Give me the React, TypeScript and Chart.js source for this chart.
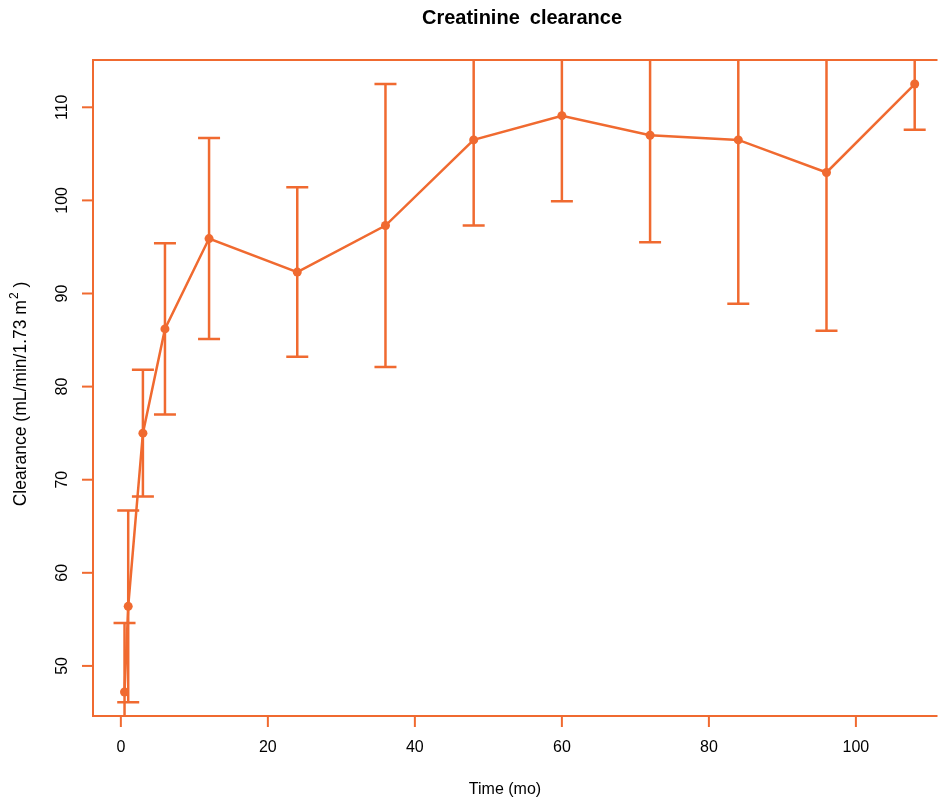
import React, { useEffect, useRef } from "react";
import { Chart, registerables } from "chart.js";

Chart.register(...registerables);

const times = [0.5, 1, 3, 6, 12, 24, 36, 48, 60, 72, 84, 96, 108];
const means = [47.2, 56.4, 75.0, 86.2, 95.9, 92.3, 97.3, 106.5, 109.1, 107.0, 106.5, 103.0, 112.5];
const errors = [7.4, 10.3, 6.8, 9.2, 10.8, 9.1, 15.2, 9.2, 9.2, 11.5, 17.6, 17.0, 4.9];
const xTicks = [0, 20, 40, 60, 80, 100];
const yTicks = [50, 60, 70, 80, 90, 100, 110];

const TITLE = "Creatinine clearance";
const X_TITLE = "Time (mo)";
const Y_TITLE_MAIN = "Clearance (mL/min/1.73 m";
const Y_TITLE_SUP = "2";
const Y_TITLE_END = " )";

const ORANGE = "#F06A30";
const FONT = "'Liberation Sans', Arial, sans-serif";

const decorPlugin = {
  id: "decor",
  beforeDatasetsDraw(chart: any) {
    const { ctx, chartArea, scales } = chart;
    const xs = scales.x;
    const ys = scales.y;
    ctx.save();
    ctx.beginPath();
    ctx.rect(chartArea.left, chartArea.top, chartArea.right - chartArea.left, chartArea.bottom - chartArea.top);
    ctx.clip();
    ctx.strokeStyle = ORANGE;
    ctx.lineWidth = 2.5;
    const cap = 11;
    times.forEach((t, i) => {
      const px = xs.getPixelForValue(t);
      const hi = ys.getPixelForValue(means[i] + errors[i]);
      const lo = ys.getPixelForValue(means[i] - errors[i]);
      ctx.beginPath();
      ctx.moveTo(px, hi);
      ctx.lineTo(px, lo);
      ctx.moveTo(px - cap, hi);
      ctx.lineTo(px + cap, hi);
      ctx.moveTo(px - cap, lo);
      ctx.lineTo(px + cap, lo);
      ctx.stroke();
    });
    ctx.restore();
  },
  afterDraw(chart: any) {
    const { ctx, chartArea, scales } = chart;
    const xs = scales.x;
    const ys = scales.y;
    const { left, top, right, bottom } = chartArea;
    ctx.save();
    // frame
    ctx.strokeStyle = ORANGE;
    ctx.lineWidth = 2;
    ctx.beginPath();
    ctx.moveTo(right + 2, top);
    ctx.lineTo(left, top);
    ctx.lineTo(left, bottom);
    ctx.lineTo(right + 2, bottom);
    ctx.stroke();
    // x ticks
    ctx.fillStyle = "#000";
    ctx.font = `16px ${FONT}`;
    ctx.textAlign = "center";
    ctx.textBaseline = "middle";
    xTicks.forEach((v) => {
      const px = xs.getPixelForValue(v);
      ctx.beginPath();
      ctx.moveTo(px, bottom);
      ctx.lineTo(px, bottom + 11);
      ctx.stroke();
      ctx.fillText(String(v), px, 748);
    });
    // y ticks
    yTicks.forEach((v) => {
      const py = ys.getPixelForValue(v);
      ctx.beginPath();
      ctx.moveTo(left, py);
      ctx.lineTo(left - 11, py);
      ctx.stroke();
      ctx.save();
      ctx.translate(63, py);
      ctx.rotate(-Math.PI / 2);
      ctx.fillText(String(v), 0, 0);
      ctx.restore();
    });
    // title
    ctx.font = `bold 20px ${FONT}`;
    const words = TITLE.split(" ");
    const gap = 10;
    const w0 = ctx.measureText(words[0]).width;
    const w1 = ctx.measureText(words[1]).width;
    const tw = w0 + gap + w1;
    ctx.textAlign = "left";
    ctx.fillText(words[0], 522 - tw / 2, 18);
    ctx.fillText(words[1], 522 - tw / 2 + w0 + gap, 18);
    ctx.textAlign = "center";
    // x title
    ctx.font = `16px ${FONT}`;
    ctx.fillText(X_TITLE, 505, 790);
    // y title
    ctx.save();
    ctx.translate(21, 394);
    ctx.rotate(-Math.PI / 2);
    const big = 17.5;
    const small = 12;
    ctx.font = `${big}px ${FONT}`;
    const wMain = ctx.measureText(Y_TITLE_MAIN).width;
    ctx.font = `${small}px ${FONT}`;
    const wSup = ctx.measureText(Y_TITLE_SUP).width;
    ctx.font = `${big}px ${FONT}`;
    const wEnd = ctx.measureText(Y_TITLE_END).width;
    const total = wMain + wSup + wEnd + 1;
    let x0 = -total / 2;
    ctx.textAlign = "left";
    ctx.fillText(Y_TITLE_MAIN, x0, 0);
    x0 += wMain + 1;
    ctx.font = `${small}px ${FONT}`;
    ctx.fillText(Y_TITLE_SUP, x0, -6);
    x0 += wSup;
    ctx.font = `${big}px ${FONT}`;
    ctx.fillText(Y_TITLE_END, x0, 0);
    ctx.restore();
    ctx.restore();
  },
};

export default function App() {
  const ref = useRef<HTMLCanvasElement | null>(null);
  useEffect(() => {
    if (!ref.current) return;
    const chart = new Chart(ref.current, {
      type: "line",
      data: {
        datasets: [
          {
            data: times.map((t, i) => ({ x: t, y: means[i] })),
            borderColor: ORANGE,
            backgroundColor: ORANGE,
            borderWidth: 2.5,
            pointRadius: 4.5,
            pointBackgroundColor: ORANGE,
            pointBorderWidth: 0,
            tension: 0,
            fill: false,
          },
        ],
      },
      options: {
        animation: false,
        responsive: false,
        events: [],
        layout: { padding: { left: 93, top: 60, right: 0, bottom: 84 } },
        scales: {
          x: { type: "linear", min: -3.79, max: 110.83, display: false },
          y: { type: "linear", min: 44.62, max: 115.08, display: false },
        },
        plugins: {
          legend: { display: false },
          title: { display: false },
          tooltip: { enabled: false },
        },
      },
      plugins: [decorPlugin],
    });
    return () => chart.destroy();
  }, []);
  return (
    <div style={{ position: "absolute", left: 0, top: 0, width: 940, height: 800, background: "#fff" }}>
      <canvas ref={ref} width={940} height={800} style={{ width: 940, height: 800, display: "block" }} />
    </div>
  );
}
